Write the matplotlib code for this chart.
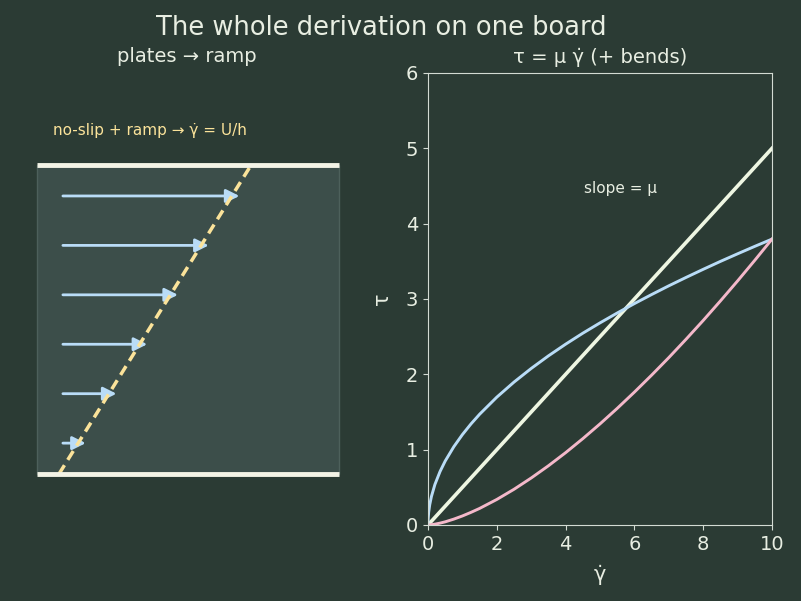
import numpy as np
import matplotlib.pyplot as plt
from matplotlib.patches import Rectangle

# colours
bg = '#2b3b34'
fg = '#e8eee2'
spine_c = '#d3dbd3'
plate_c = '#f3f3e6'
fluid_c = '#3c4e4a'
arrow_c = '#b9dcf7'
ramp_c = '#fbe39a'
line_c = '#eef6e2'
thin_c = '#b9dcf7'
thick_c = '#f4b8ca'

# velocity profile (heights in units of h)
arrow_heights = [0.1, 0.26, 0.42, 0.58, 0.74, 0.9]
ramp_x0, ramp_x1 = 0.073, 0.709
arrow_start = 0.086

# flow curves
gamma = [0, 0.005, 0.02, 0.05, 0.1, 0.2, 0.35, 0.5, 0.75, 1, 1.25, 1.5, 2, 2.5, 3, 3.5,
         4, 4.5, 5, 5.5, 6, 6.5, 7, 7.5, 8, 8.5, 9, 9.5, 10]
tau_newton = [0, 0.0025, 0.01, 0.025, 0.05, 0.1, 0.175, 0.25, 0.375, 0.5, 0.625, 0.75,
              1.0, 1.25, 1.5, 1.75, 2.0, 2.25, 2.5, 2.75, 3.0, 3.25, 3.5, 3.75, 4.0,
              4.25, 4.5, 4.75, 5.0]
tau_thin = [0, 0.085, 0.170, 0.268, 0.379, 0.537, 0.710, 0.849, 1.039, 1.2, 1.342, 1.470,
            1.697, 1.897, 2.078, 2.245, 2.400, 2.546, 2.683, 2.814, 2.939, 3.059, 3.175,
            3.286, 3.394, 3.499, 3.600, 3.699, 3.795]
tau_thick = [0, 0.0000, 0.0003, 0.0013, 0.004, 0.011, 0.025, 0.042, 0.078, 0.12, 0.168,
             0.220, 0.339, 0.474, 0.624, 0.786, 0.960, 1.146, 1.342, 1.548, 1.764, 1.989,
             2.222, 2.465, 2.715, 2.974, 3.240, 3.514, 3.795]

fig = plt.figure(figsize=(8.01, 6.01), dpi=100, facecolor=bg)
fig.suptitle('The whole derivation on one board', color=fg, fontsize=18.5,
             x=381 / 801, y=0.975)

# ---- left: plates -> ramp ----
axL = fig.add_axes([20.9 / 801, 76 / 601, 332 / 801, 452 / 601])
axL.set_facecolor(bg)
axL.set_xlim(-0.053, 1.046)
axL.set_ylim(-0.165, 1.298)
axL.axis('off')
axL.set_title('plates → ramp', color=fg, fontsize=14, pad=8)

axL.add_patch(Rectangle((0, 0), 1, 1, facecolor=fluid_c, edgecolor='#4d605b', lw=1, zorder=1))
axL.plot([0, 1], [0, 0], color=plate_c, lw=3.5, solid_capstyle='butt', zorder=4)
axL.plot([0, 1], [1, 1], color=plate_c, lw=3.5, solid_capstyle='butt', zorder=4)
axL.plot([ramp_x0, ramp_x1], [0, 1], color=ramp_c, lw=2.5, linestyle=(0, (3, 1.8)), zorder=3)
for yh in arrow_heights:
    x_end = ramp_x0 + (ramp_x1 - ramp_x0) * yh + 0.025
    axL.annotate('', xy=(x_end, yh), xytext=(arrow_start, yh),
                 arrowprops=dict(arrowstyle='-|>', color=arrow_c, lw=2,
                                 mutation_scale=20, shrinkA=0, shrinkB=0), zorder=2)
axL.text(0.053, 1.113, 'no-slip + ramp → γ̇ = U/h', color=ramp_c, fontsize=11,
         ha='left', va='center')

# ---- right: tau vs gamma-dot ----
axR = fig.add_axes([428 / 801, 76 / 601, 344 / 801, 452 / 601])
axR.set_facecolor(bg)
axR.plot(gamma, tau_newton, color=line_c, lw=2.6)
axR.plot(gamma, tau_thin, color=thin_c, lw=2.1)
axR.plot(gamma, tau_thick, color=thick_c, lw=2.1)
axR.set_xlim(0, 10)
axR.set_ylim(0, 6)
axR.set_title('τ = μ γ̇ (+ bends)', color=fg, fontsize=14, pad=7)
axR.set_xlabel('γ̇', color=fg, fontsize=15, labelpad=8)
axR.set_ylabel('τ', color=fg, fontsize=15, labelpad=10)
axR.text(5.6, 4.47, 'slope = μ', color=fg, fontsize=11, ha='center', va='center')
axR.tick_params(colors=spine_c, labelcolor=fg, labelsize=14)
for s in axR.spines.values():
    s.set_color(spine_c)

fig.savefig('out.png', dpi=100, facecolor=bg)
